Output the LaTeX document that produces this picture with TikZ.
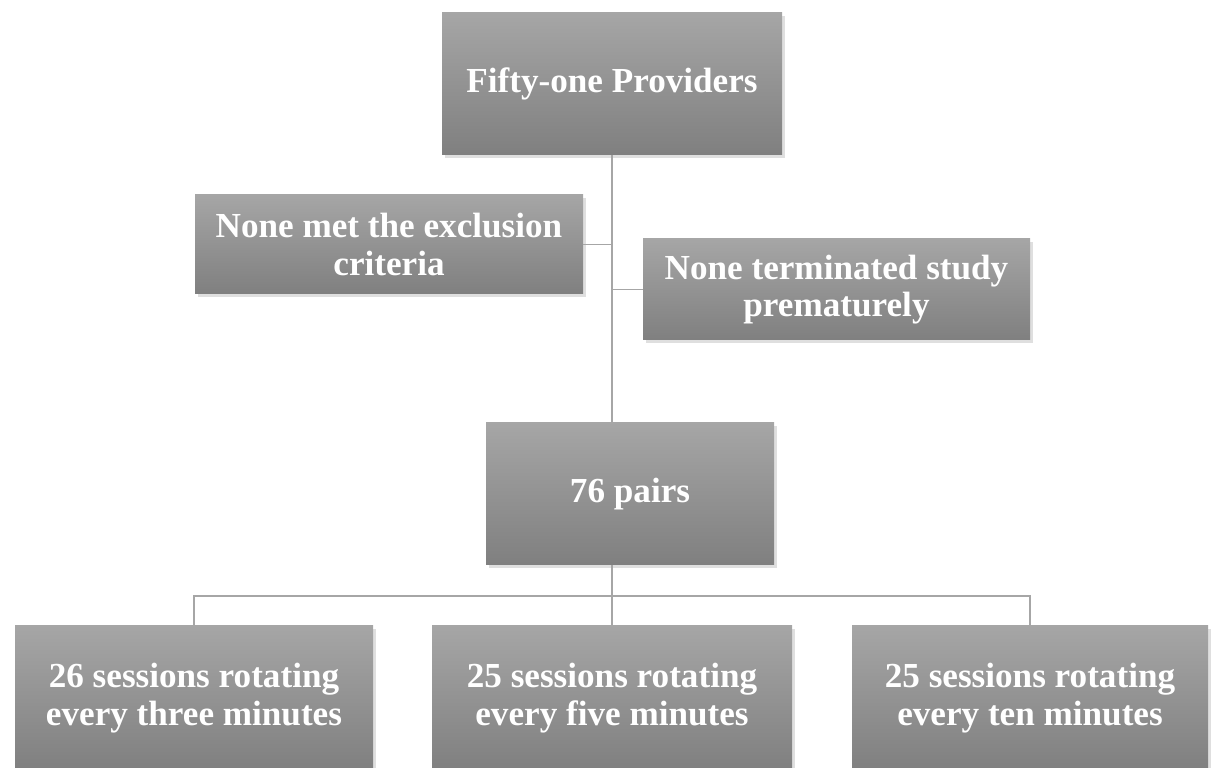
\documentclass[tikz,border=0pt]{standalone}
\usepackage{fontspec}
\setmainfont{Liberation Serif}
\usetikzlibrary{positioning, calc, shadows}

\begin{document}
\begin{tikzpicture}[
  box/.style={draw=none, top color=black!35, bottom color=black!50,
    text=white, font=\bfseries\fontsize{20}{21.5}\selectfont, align=center,
    inner sep=0pt, drop shadow={shadow xshift=1.5pt, shadow yshift=-1.5pt, opacity=0.25}},
  link/.style={draw=black!35, line width=1.1pt}
]
\clip (0,0) rectangle (24.24,15.36);
% Boxes
\node[box, minimum width=6.8cm, minimum height=2.84cm] (providers) at (12.24,13.68) {Fifty-one Providers};
\node[box, minimum width=7.76cm, minimum height=1.98cm] (excl) at (7.78,10.47) {None met the exclusion\\criteria};
\node[box, minimum width=7.74cm, minimum height=2.02cm] (term) at (16.73,9.57) {None terminated study\\prematurely};
\node[box, minimum width=5.76cm, minimum height=2.84cm] (pairs) at (12.6,5.48) {76 pairs};
\node[box, minimum width=7.16cm, minimum height=2.88cm] (three) at (3.88,1.40) {26 sessions rotating\\every three minutes};
\node[box, minimum width=7.2cm, minimum height=2.88cm] (five) at (12.24,1.40) {25 sessions rotating\\every five minutes};
\node[box, minimum width=7.12cm, minimum height=2.88cm] (ten) at (20.6,1.40) {25 sessions rotating\\every ten minutes};
% Connectors
\coordinate (bus) at (12.24,3.44);
\draw[link] (providers.south) -- (providers.south |- pairs.north);
\draw[link] (excl.east) -- (excl.east -| providers.south);
\draw[link] (term.west) -- (term.west -| providers.south);
\draw[link] (providers.south |- pairs.south) -- (bus);
\draw[link] (three.north) |- (bus) -| (ten.north);
\draw[link] (bus) -- (five.north);
\end{tikzpicture}
\end{document}
